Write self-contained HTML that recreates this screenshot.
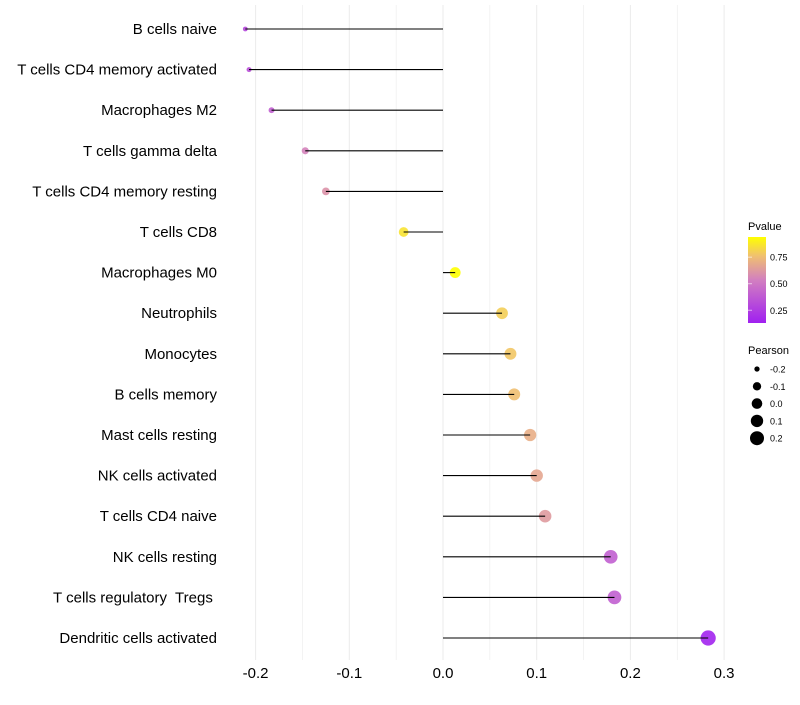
<!DOCTYPE html>
<html><head><meta charset="utf-8"><style>
body{margin:0;background:#fff;font-family:"Liberation Sans",sans-serif;}
text{white-space:pre;}
</style></head><body>
<svg id="chart" width="800" height="700" xmlns="http://www.w3.org/2000/svg" font-family="Liberation Sans, sans-serif">
<defs><linearGradient id="pg" x1="0" y1="1" x2="0" y2="0">
<stop offset="0" stop-color="#a020f0"/><stop offset="0.5" stop-color="#d27fc0"/><stop offset="0.78" stop-color="#f0c070"/><stop offset="1" stop-color="#ffff00"/></linearGradient></defs>
<g id="grid"></g>
<g id="marks"></g>
<g id="ylabels"></g>
<g id="xlabels"></g>
<g>
<text x="748" y="230" font-size="11">Pvalue</text>
<rect x="748" y="237" width="18" height="86" fill="url(#pg)"/>
<g id="cbticks"></g>
</g>
<g id="sizeleg">
<text x="748" y="354" font-size="11">Pearson</text>
</g>
</svg>
<script>
const categories=["B cells naive","T cells CD4 memory activated","Macrophages M2","T cells gamma delta","T cells CD4 memory resting","T cells CD8","Macrophages M0","Neutrophils","Monocytes","B cells memory","Mast cells resting","NK cells activated","T cells CD4 naive","NK cells resting","T cells regulatory  Tregs ","Dendritic cells activated"];
const pearson=[-0.211,-0.207,-0.183,-0.147,-0.125,-0.042,0.013,0.063,0.072,0.076,0.093,0.100,0.109,0.179,0.183,0.283];
const pvalue=[0.30,0.33,0.40,0.55,0.60,0.86,0.94,0.80,0.78,0.76,0.70,0.67,0.63,0.40,0.40,0.15];
const xTicks=[-0.2,-0.1,0.0,0.1,0.2,0.3];
const xTickLabels=["-0.2","-0.1","0.0","0.1","0.2","0.3"];
const cbTicks=[0.25,0.50,0.75];
const sizeLegend=[-0.2,-0.1,0.0,0.1,0.2];
const NS="http://www.w3.org/2000/svg";
const xS=v=>443+v*937;
const yS=i=>29+i*40.6;
const rS=v=>1.08*Math.sqrt(Math.max(1.5,24+90*v));
const cS=p=>{p=Math.max(0,Math.min(1,(p-0.13)/(0.94-0.13)));
 const st=[[0,[160,32,240]],[0.5,[210,127,192]],[0.78,[240,192,112]],[1,[255,255,0]]];
 for(let k=1;k<st.length;k++){if(p<=st[k][0]){const a=st[k-1],b=st[k],t=(p-a[0])/(b[0]-a[0]);return `rgb(${a[1].map((c,j)=>Math.round(c+(b[1][j]-c)*t)).join(",")})`;}}return "rgb(255,255,0)";};
const cbY=p=>237+(0.94-p)/(0.81)*86;
function mk(tag,attrs,parent){const e=document.createElementNS(NS,tag);for(const k in attrs)e.setAttribute(k,attrs[k]);document.getElementById(parent).appendChild(e);return e;}
for(let v=-0.2;v<=0.3001;v+=0.05){
 const g=mk("line",{x1:xS(v),x2:xS(v),y1:5,y2:660,stroke:"#ebebeb","stroke-width":Math.abs(Math.round(v*20))%2==0?1:0.6},"grid");
 
 
}
categories.forEach((c,i)=>{
 const t=mk("text",{x:217,y:yS(i)+5,"text-anchor":"end","font-size":15,fill:"#000"},"ylabels");
 t.textContent=c;
 
 
 const p=mk("circle",{cx:xS(pearson[i]),cy:yS(i),r:rS(pearson[i]),fill:cS(pvalue[i]),"fill-opacity":0.9},"marks");
 
 
 const l=mk("line",{x1:xS(0),x2:xS(pearson[i]),y1:yS(i),y2:yS(i),stroke:"#000","stroke-width":1.1},"marks");
 
 
});
xTicks.forEach((v,i)=>{
 const t=mk("text",{x:xS(v),y:678,"text-anchor":"middle","font-size":15,fill:"#000"},"xlabels");
 t.textContent=xTickLabels[i];
 
 
});
cbTicks.forEach(v=>{
 const y=cbY(v);
 const a=mk("line",{x1:748,x2:752,y1:y,y2:y,stroke:"#fff","stroke-opacity":0.6},"cbticks");
 
 
 const t=mk("text",{x:770,y:y+3.5,"font-size":9},"cbticks");
 t.textContent=v.toFixed(2);
 
 
});
sizeLegend.forEach((v,i)=>{
 const y=369+i*17.3;
 const c=mk("circle",{cx:757,cy:y,r:rS(v),fill:"#000"},"sizeleg");
 
 
 const t=mk("text",{x:770,y:y+3.5,"font-size":9},"sizeleg");
 t.textContent=v.toFixed(1);
 
 
});
</script>
</body></html>
